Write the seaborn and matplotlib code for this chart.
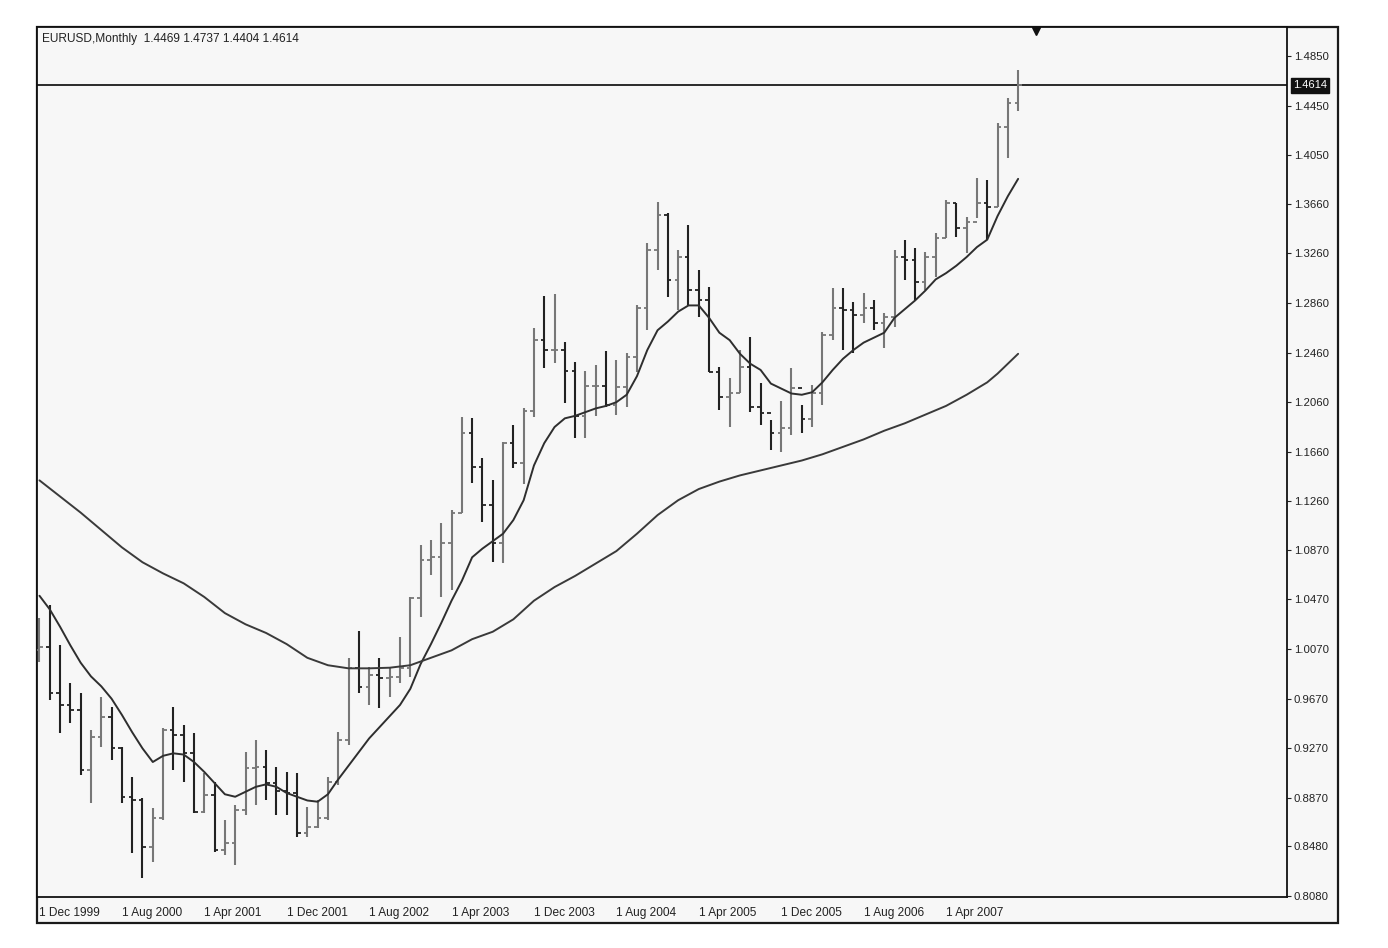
import numpy as np
import pandas as pd
import seaborn as sns
import matplotlib.pyplot as plt
from matplotlib.patches import Rectangle
from matplotlib.transforms import blended_transform_factory


# AYARLAR

sns.set_style("white")
plt.rcParams["font.family"] = ["Liberation Sans", "DejaVu Sans"]
plt.rcParams["axes.unicode_minus"] = False

W, H = 1388, 948

# VERİ (aylık EURUSD barları, Dec 1999 -> Nov 2007)

highs = [1.0318, 1.0425, 1.0103, 0.9794, 0.9714, 0.9418, 0.9686, 0.9606, 0.9284, 0.9042,
         0.8867, 0.8787, 0.9431, 0.9606, 0.9458, 0.9391, 0.9069, 0.9001, 0.8693, 0.8813,
         0.9243, 0.9337, 0.9257, 0.9122, 0.9082, 0.9069, 0.8800, 0.8854, 0.9042, 0.9404,
         0.9996, 1.0215, 0.9928, 0.9998, 0.9918, 1.0168, 1.0490, 1.0909, 1.0950, 1.1086,
         1.1191, 1.1943, 1.1933, 1.1610, 1.1433, 1.1739, 1.1876, 1.2013, 1.2660, 1.2913,
         1.2930, 1.2549, 1.2388, 1.2308, 1.2361, 1.2469, 1.2400, 1.2454, 1.2844, 1.3341,
         1.3676, 1.3583, 1.3287, 1.3488, 1.3126, 1.2991, 1.2346, 1.2253, 1.2481, 1.2588,
         1.2212, 1.1917, 1.2070, 1.2333, 1.2037, 1.2199, 1.2628, 1.2978, 1.2978, 1.2870,
         1.2938, 1.2884, 1.2777, 1.3287, 1.3367, 1.3300, 1.3273, 1.3421, 1.3690, 1.3663,
         1.3555, 1.3865, 1.3851, 1.4308, 1.4510, 1.4737]

lows = [0.9968, 0.9660, 0.9391, 0.9472, 0.9055, 0.8827, 0.9284, 0.9176, 0.8827, 0.8424,
        0.8222, 0.8357, 0.8693, 0.9096, 0.9001, 0.8747, 0.8747, 0.8437, 0.8410, 0.8330,
        0.8733, 0.8813, 0.8854, 0.8733, 0.8733, 0.8558, 0.8558, 0.8626, 0.8693, 0.8975,
        0.9297, 0.9714, 0.9619, 0.9595, 0.9684, 0.9797, 0.9845, 1.0329, 1.0667, 1.0490,
        1.0547, 1.1167, 1.1409, 1.1094, 1.0772, 1.0764, 1.1530, 1.1400, 1.1943, 1.2338,
        1.2376, 1.2052, 1.1771, 1.1771, 1.1945, 1.2025, 1.1957, 1.2024, 1.2306, 1.2642,
        1.3126, 1.2910, 1.2803, 1.2844, 1.2749, 1.2306, 1.1997, 1.1863, 1.2132, 1.1984,
        1.1876, 1.1675, 1.1661, 1.1796, 1.1815, 1.1863, 1.2038, 1.2561, 1.2481, 1.2454,
        1.2696, 1.2642, 1.2494, 1.2669, 1.3045, 1.2884, 1.2964, 1.3072, 1.3381, 1.3394,
        1.3260, 1.3542, 1.3367, 1.3636, 1.4026, 1.4404]

closes = [1.0089, 0.9714, 0.9619, 0.9579, 0.9096, 0.9364, 0.9525, 0.9270, 0.8881, 0.8854,
          0.8477, 0.8706, 0.9418, 0.9378, 0.9230, 0.8760, 0.8894, 0.8451, 0.8505, 0.8773,
          0.9109, 0.9122, 0.8988, 0.8930, 0.8908, 0.8585, 0.8640, 0.8706, 0.9001, 0.9337,
          0.9915, 0.9767, 0.9861, 0.9837, 0.9845, 0.9918, 1.0480, 1.0788, 1.0812, 1.0925,
          1.1167, 1.1812, 1.1538, 1.1231, 1.0925, 1.1731, 1.1570, 1.1990, 1.2563, 1.2482,
          1.2482, 1.2308, 1.1945, 1.2187, 1.2187, 1.2040, 1.2185, 1.2427, 1.2817, 1.3287,
          1.3569, 1.3045, 1.3233, 1.2964, 1.2884, 1.2306, 1.2104, 1.2132, 1.2346, 1.2024,
          1.1971, 1.1809, 1.1850, 1.2172, 1.1926, 1.2132, 1.2602, 1.2817, 1.2803, 1.2763,
          1.2817, 1.2696, 1.2749, 1.3233, 1.3206, 1.3031, 1.3233, 1.3381, 1.3663, 1.3462,
          1.3515, 1.3663, 1.3636, 1.4281, 1.4469, 1.4614]

# aylık açılış = önceki kapanış
first_open = 1.0060
opens = [first_open] + closes[:-1]

# hızlı hareketli ortalama (her ay)
fast_ma = [1.050, 1.039, 1.025, 1.010, 0.996, 0.985, 0.977, 0.967, 0.954, 0.940,
           0.927, 0.916, 0.921, 0.923, 0.922, 0.916, 0.908, 0.899, 0.890, 0.888,
           0.892, 0.896, 0.898, 0.896, 0.891, 0.888, 0.885, 0.884, 0.890, 0.902,
           0.913, 0.924, 0.935, 0.944, 0.953, 0.962, 0.975, 0.995, 1.011, 1.028,
           1.046, 1.062, 1.081, 1.088, 1.094, 1.100, 1.111, 1.127, 1.155, 1.173,
           1.186, 1.193, 1.195, 1.198, 1.201, 1.203, 1.206, 1.212, 1.227, 1.248,
           1.264, 1.271, 1.279, 1.284, 1.284, 1.274, 1.262, 1.256, 1.245, 1.237,
           1.232, 1.221, 1.217, 1.213, 1.212, 1.214, 1.222, 1.232, 1.241, 1.248,
           1.254, 1.258, 1.262, 1.274, 1.281, 1.288, 1.296, 1.305, 1.310, 1.316,
           1.323, 1.331, 1.337, 1.356, 1.372, 1.386]

# yavaş hareketli ortalama (iki ayda bir okundu)
slow_ma_month = [0, 2, 4, 6, 8, 10, 12, 14, 16, 18, 20, 22, 24, 26, 28, 30, 32, 34, 36, 38,
                 40, 42, 44, 46, 48, 50, 52, 54, 56, 58, 60, 62, 64, 66, 68, 70, 72, 74, 76,
                 78, 80, 82, 84, 86, 88, 90, 92, 93, 94, 95]
slow_ma = [1.143, 1.130, 1.117, 1.103, 1.089, 1.077, 1.068, 1.060, 1.049, 1.036,
           1.027, 1.020, 1.011, 1.000, 0.994, 0.9915, 0.9915, 0.992, 0.994, 1.000,
           1.006, 1.015, 1.021, 1.031, 1.046, 1.057, 1.066, 1.076, 1.086, 1.100,
           1.115, 1.127, 1.136, 1.142, 1.147, 1.151, 1.155, 1.159, 1.164, 1.170,
           1.176, 1.183, 1.189, 1.196, 1.203, 1.212, 1.222, 1.229, 1.237, 1.245]

x_tick_months = [0, 8, 16, 24, 32, 40, 48, 56, 64, 72, 80, 88]
x_tick_labels = ["1 Dec 1999", "1 Aug 2000", "1 Apr 2001", "1 Dec 2001", "1 Aug 2002",
                 "1 Apr 2003", "1 Dec 2003", "1 Aug 2004", "1 Apr 2005", "1 Dec 2005",
                 "1 Aug 2006", "1 Apr 2007"]
y_tick_labels = ["0.8080", "0.8480", "0.8870", "0.9270", "0.9670", "1.0070", "1.0470",
                 "1.0870", "1.1260", "1.1660", "1.2060", "1.2460", "1.2860", "1.3260",
                 "1.3660", "1.4050", "1.4450", "1.4850"]

title_text = "EURUSD,Monthly  1.4469 1.4737 1.4404 1.4614"

df = pd.DataFrame({"open": opens, "high": highs, "low": lows, "close": closes})
df["t"] = np.arange(len(df))
df["up"] = df["close"] >= df["open"]


# GRAFİK

fig = plt.figure(figsize=(W / 100, H / 100), dpi=100)
fig.patch.set_facecolor("white")

# dış çerçeve (fiyat ve tarih alanı dahil)
frame = Rectangle((37 / W, 1 - 923 / H), (1338 - 37) / W, (923 - 27) / H,
                  transform=fig.transFigure, facecolor="#f7f7f7",
                  edgecolor="#1a1a1a", lw=1.6, zorder=-5)
fig.patches.append(frame)

ax = fig.add_axes([37 / W, 1 - 897 / H, (1287 - 37) / W, (897 - 27) / H])
ax.set_zorder(2)
ax.set_facecolor("#f7f7f7")

up = df[df["up"]]
dn = df[~df["up"]]
for part, col in [(up, "#777777"), (dn, "#222222")]:
    ax.vlines(part["t"], part["low"], part["high"], color=col, lw=1.5, zorder=3)
    ax.hlines(part["open"], part["t"] - 0.35, part["t"], color=col, lw=1.3, zorder=3)
    ax.hlines(part["close"], part["t"], part["t"] + 0.35, color=col, lw=1.3, zorder=3)

sns.lineplot(x=np.arange(len(fast_ma)), y=fast_ma, ax=ax, color="#2e2e2e", lw=1.4, zorder=4)
sns.lineplot(x=slow_ma_month, y=slow_ma, ax=ax, color="#3a3a3a", lw=1.4, zorder=4)

# son fiyat çizgisi
ax.axhline(closes[-1], color="#2a2a2a", lw=1.4, zorder=2)

ax.set_xlim(-0.24, 121.1)
ax.set_ylim(0.8072, 1.5084)

# eksenler
for s in ax.spines.values():
    s.set_color("#111111")
    s.set_linewidth(1.3)

ax.yaxis.tick_right()
ax.set_yticks([float(v) for v in y_tick_labels])
ax.set_yticklabels(y_tick_labels, fontsize=8.2, color="#222222")
ax.tick_params(axis="y", direction="out", length=3, width=0.8, pad=2, colors="#222222")

ax.set_xticks(x_tick_months)
ax.set_xticklabels(x_tick_labels, fontsize=8.6, color="#222222")
ax.tick_params(axis="x", direction="out", length=4, width=0.8, pad=3, colors="#222222")
for lbl in ax.get_xticklabels():
    lbl.set_horizontalalignment("left")

ax.set_xlabel("")
ax.set_ylabel("")

# başlık metni
ax.text(0.004, 0.993, title_text, transform=ax.transAxes, ha="left", va="top",
        fontsize=8.6, color="#222222")

# son fiyat kutusu
tr = blended_transform_factory(ax.transAxes, ax.transData)
ax.text(1.005, closes[-1], f"{closes[-1]:.4f}", transform=tr, ha="left", va="center",
        fontsize=8, color="white", clip_on=False,
        bbox=dict(boxstyle="square,pad=0.2", facecolor="#111111", edgecolor="#111111"))

# grafik kaydırma işareti
ax.plot([len(closes) + 0.7], [0.995], marker="v", color="#111111", markersize=6,
        transform=blended_transform_factory(ax.transData, ax.transAxes), clip_on=False)

fig.savefig("out.png", dpi=100, facecolor="white")
